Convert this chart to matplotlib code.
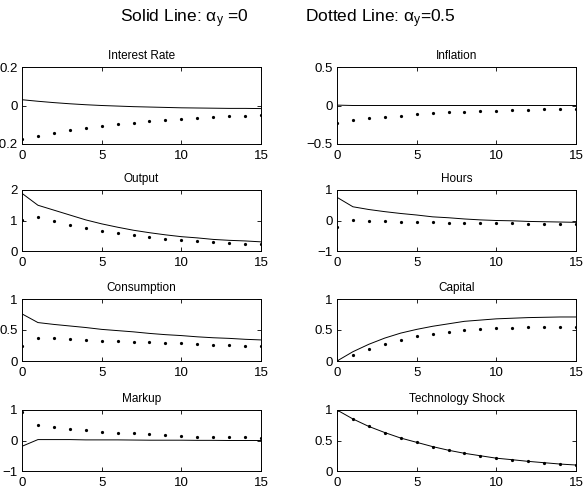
import matplotlib.pyplot as plt
import numpy as np
from matplotlib.ticker import FuncFormatter

plt.rcParams["font.family"] = ["Liberation Sans", "DejaVu Sans"]
plt.rcParams["mathtext.fontset"] = "custom"
plt.rcParams["mathtext.rm"] = "Liberation Sans"
plt.rcParams["mathtext.it"] = "Liberation Sans"

periods = np.arange(16)

# impulse responses, solid = alpha_y 0, dotted = alpha_y 0.5
interest_solid = [0.03, 0.022, 0.015, 0.009, 0.004, 0.0, -0.003, -0.006, -0.008,
                  -0.010, -0.012, -0.013, -0.014, -0.015, -0.015, -0.016]
interest_dotted = [-0.174, -0.16, -0.142, -0.128, -0.118, -0.107, -0.097, -0.09,
                   -0.081, -0.074, -0.07, -0.066, -0.061, -0.057, -0.054, -0.05]

inflation_solid = [0.005, 0.0, 0.0, 0.0, 0.0, 0.0, 0.0, 0.0, 0.0, 0.0, 0.0, 0.0,
                   0.0, 0.0, 0.0, 0.0]
inflation_dotted = [-0.232, -0.189, -0.167, -0.149, -0.132, -0.114, -0.10, -0.088,
                    -0.079, -0.07, -0.066, -0.057, -0.053, -0.048, -0.044, -0.04]

output_solid = [1.89, 1.5, 1.34, 1.18, 1.02, 0.89, 0.78, 0.68, 0.60, 0.53, 0.47,
                0.43, 0.38, 0.35, 0.33, 0.30]
output_dotted = [1.03, 1.12, 0.98, 0.86, 0.75, 0.66, 0.58, 0.51, 0.45, 0.40, 0.36,
                 0.33, 0.30, 0.26, 0.24, 0.22]

hours_solid = [0.76, 0.45, 0.36, 0.29, 0.23, 0.18, 0.12, 0.09, 0.05, 0.02, 0.0,
               -0.01, -0.03, -0.04, -0.05, -0.06]
hours_dotted = [-0.2, 0.03, 0.0, -0.02, -0.04, -0.05, -0.06, -0.07, -0.08, -0.09,
                -0.09, -0.09, -0.1, -0.1, -0.1, -0.1]

consumption_solid = [0.76, 0.62, 0.59, 0.565, 0.54, 0.51, 0.49, 0.47, 0.445, 0.425,
                     0.41, 0.39, 0.375, 0.365, 0.35, 0.34]
consumption_dotted = [0.24, 0.37, 0.365, 0.355, 0.34, 0.33, 0.32, 0.31, 0.30, 0.295,
                      0.285, 0.28, 0.265, 0.26, 0.25, 0.245]

capital_solid = [0.0, 0.15, 0.27, 0.37, 0.45, 0.51, 0.56, 0.60, 0.64, 0.66, 0.68,
                 0.69, 0.70, 0.705, 0.71, 0.71]
capital_dotted = [0.0, 0.09, 0.19, 0.28, 0.34, 0.40, 0.44, 0.47, 0.495, 0.51, 0.53,
                  0.54, 0.543, 0.55, 0.55, 0.545]

markup_solid = [-0.19, 0.03, 0.03, 0.03, 0.02, 0.02, 0.02, 0.015, 0.01, 0.01, 0.01,
                0.005, 0.005, 0.0, 0.0, 0.0]
markup_dotted = [0.93, 0.52, 0.44, 0.37, 0.33, 0.29, 0.25, 0.23, 0.2, 0.165, 0.155,
                 0.13, 0.12, 0.11, 0.10, 0.09]

tech_solid = [1.0, 0.853, 0.73, 0.63, 0.54, 0.47, 0.40, 0.34, 0.29, 0.25, 0.21,
              0.185, 0.158, 0.136, 0.114, 0.098]
tech_dotted = tech_solid

panels = [
    ("Interest Rate", interest_solid, interest_dotted, (-0.2, 0.2), [-0.2, 0, 0.2]),
    ("Inflation", inflation_solid, inflation_dotted, (-0.5, 0.5), [-0.5, 0, 0.5]),
    ("Output", output_solid, output_dotted, (0, 2), [0, 1, 2]),
    ("Hours", hours_solid, hours_dotted, (-1, 1), [-1, 0, 1]),
    ("Consumption", consumption_solid, consumption_dotted, (0, 1), [0, 0.5, 1]),
    ("Capital", capital_solid, capital_dotted, (0, 1), [0, 0.5, 1]),
    ("Markup", markup_solid, markup_dotted, (-1, 1), [-1, 0, 1]),
    ("Technology Shock", tech_solid, tech_dotted, (0, 1), [0, 0.5, 1]),
]

W, H = 585, 500
col_x = [22, 337]
col_w = 239
rows = [(67, 144), (190, 251), (299, 361), (410, 471)]

fig = plt.figure(figsize=(5.85, 5.0), dpi=100)

fmt = FuncFormatter(lambda v, p: ("%g" % v).replace("-", "\u2212"))

for i, (title, solid, dotted, ylim, yticks) in enumerate(panels):
    r, c = divmod(i, 2)
    top, bot = rows[r]
    ax = fig.add_axes([col_x[c] / W, 1 - bot / H, col_w / W, (bot - top) / H])
    ax.plot(periods, solid, color="black", linewidth=0.7)
    ax.plot(periods, dotted, linestyle="none", marker=".", markersize=2.6,
            color="black")
    ax.set_xlim(0, 15)
    ax.set_ylim(*ylim)
    ax.set_xticks([0, 5, 10, 15])
    ax.set_yticks(yticks)
    ax.yaxis.set_major_formatter(fmt)
    ax.tick_params(direction="in", top=True, right=True, length=3, width=0.6,
                   labelsize=9.5)
    ax.tick_params(axis="x", pad=4)
    ax.tick_params(axis="y", pad=3)
    for s in ax.spines.values():
        s.set_linewidth(0.7)
    ax.set_title(title, fontsize=8.5, pad=6)

fig.text(120 / W, 1 - 22 / H, r"Solid Line: $\alpha_y$ =0", fontsize=12.5)
fig.text(305 / W, 1 - 22 / H, r"Dotted Line: $\alpha_y$=0.5", fontsize=12.5)

plt.savefig("out.png", dpi=100)
